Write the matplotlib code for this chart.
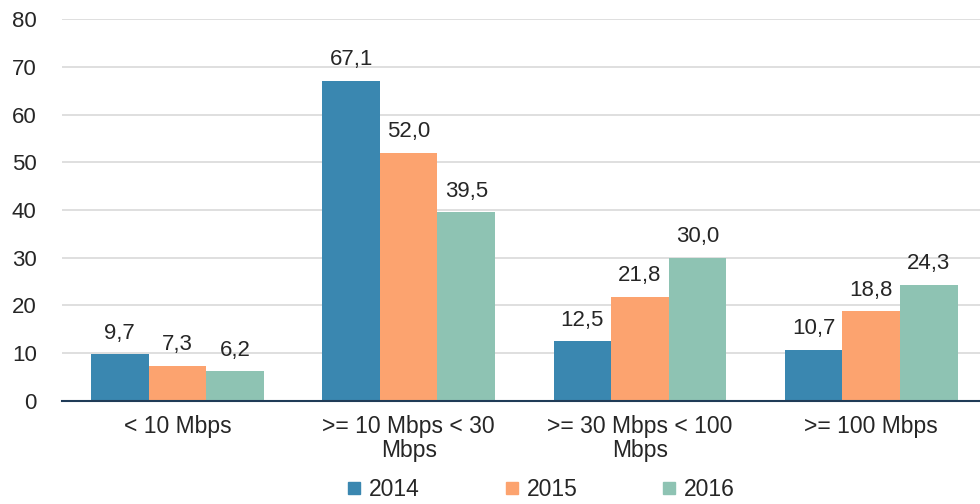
import numpy as np
import matplotlib
matplotlib.use('Agg')
import matplotlib.pyplot as plt

plt.rcParams['font.family'] = ['Liberation Sans', 'DejaVu Sans']

# data
categories = ['< 10 Mbps', '>= 10 Mbps < 30\nMbps', '>= 30 Mbps < 100\nMbps', '>= 100 Mbps']
years = ['2014', '2015', '2016']
v2014 = [9.7, 67.1, 12.5, 10.7]
v2015 = [7.3, 52.0, 21.8, 18.8]
v2016 = [6.2, 39.5, 30.0, 24.3]
colors = ['#3A87B0', '#FCA36F', '#8EC3B3']

txt = '#262626'
fig = plt.figure(figsize=(9.8, 5.04), dpi=100)
ax = fig.add_axes([0.063, 0.205, 0.944, 0.757])

x = np.arange(len(categories))
w = 0.249
for i, (vals, yr, c) in enumerate(zip([v2014, v2015, v2016], years, colors)):
    bars = ax.bar(x + (i - 1) * w, vals, w, color=c, label=yr, zorder=3)
    for b, v in zip(bars, vals):
        ax.annotate(f'{v:.1f}'.replace('.', ','), (b.get_x() + b.get_width() / 2, v),
                    xytext=(0, 7.5), textcoords='offset points', ha='center', va='bottom',
                    fontsize=16, color=txt)

ax.set_xlim(-0.5, len(categories) - 0.5)
ax.set_ylim(0, 80)
ax.set_yticks(range(0, 81, 10))
ax.yaxis.grid(True, color='#d9d9d9', linewidth=1.2, zorder=0)
ax.set_xticks(x)
ax.set_xticklabels(categories, fontsize=16.5, color=txt, linespacing=1.1)
ax.tick_params(axis='y', labelsize=16, labelcolor=txt, length=0, pad=18)
ax.tick_params(axis='x', length=0, pad=10)
for s in ['top', 'right', 'left']:
    ax.spines[s].set_visible(False)
ax.spines['bottom'].set_color('#1f3b57')
ax.spines['bottom'].set_linewidth(1.5)
ax.spines['bottom'].set_zorder(4)

handles = [plt.Line2D([], [], marker='s', linestyle='', color=c, markersize=8) for c in colors]
fig.legend(handles, years, loc='lower center', bbox_to_anchor=(0.551, -0.035), ncol=3,
           frameon=False, fontsize=16.5, handletextpad=0.25, columnspacing=3.6,
           labelcolor=txt, handlelength=0.8)

fig.savefig('out.png', dpi=100)
